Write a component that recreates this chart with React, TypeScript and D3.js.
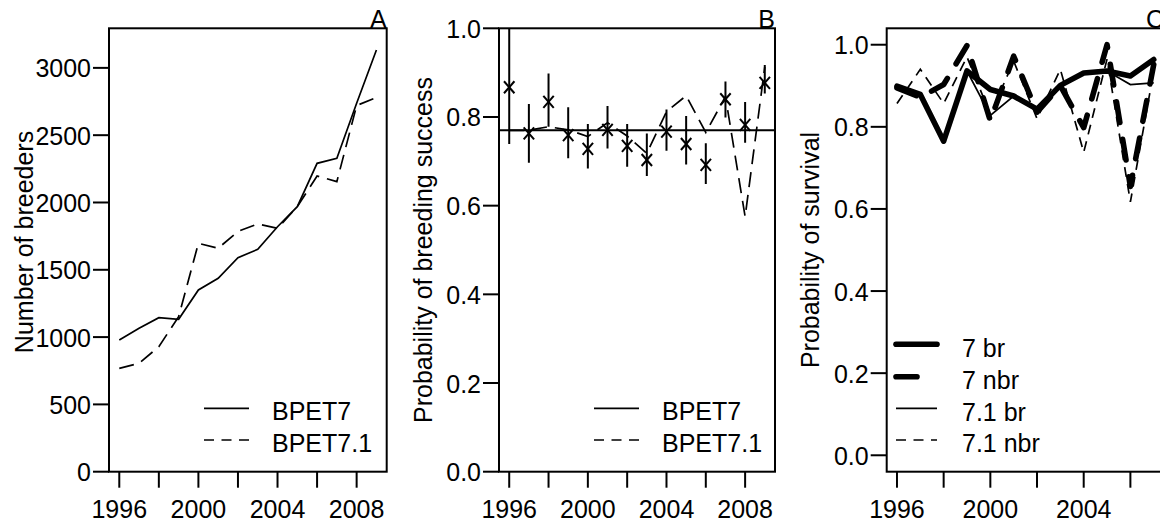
import React from "react";
import * as d3 from "d3";

// ---------- data ----------
const years = [1996, 1997, 1998, 1999, 2000, 2001, 2002, 2003, 2004, 2005, 2006, 2007, 2008, 2009];
const yearsC = [1996, 1997, 1998, 1999, 2000, 2001, 2002, 2003, 2004, 2005, 2006, 2007];

// Panel A: number of breeders
const breedersBPET7 = [978, 1065, 1144, 1132, 1350, 1437, 1590, 1652, 1820, 1969, 2291, 2328, 2737, 3133];
const breedersBPET71 = [768, 805, 929, 1152, 1697, 1660, 1785, 1840, 1808, 1969, 2197, 2155, 2720, 2780];

// Panel B: probability of breeding success
const successBPET7 = 0.77;
const successPoints = [0.867, 0.763, 0.834, 0.759, 0.728, 0.771, 0.735, 0.703, 0.767, 0.739, 0.692, 0.84, 0.782, 0.877];
const successLower = [0.739, 0.697, 0.778, 0.707, 0.684, 0.729, 0.688, 0.667, 0.724, 0.693, 0.649, 0.799, 0.742, 0.853];
const successUpper = [1.0, 0.829, 0.898, 0.822, 0.784, 0.825, 0.784, 0.763, 0.817, 0.802, 0.741, 0.88, 0.834, 0.917];
const successBPET71 = [0.77, 0.77, 0.778, 0.771, 0.756, 0.787, 0.757, 0.718, 0.812, 0.848, 0.765, 0.846, 0.575, 0.913];

// Panel C: probability of survival
const survival7br = [0.899, 0.879, 0.765, 0.936, 0.891, 0.875, 0.843, 0.901, 0.931, 0.936, 0.924, 0.964];
const survival7nbr = [0.895, 0.872, 0.903, 0.998, 0.815, 0.972, 0.836, 0.9, 0.798, 1.0, 0.655, 0.952];
const survival71br = [0.9, 0.88, 0.77, 0.936, 0.828, 0.875, 0.843, 0.9, 0.931, 0.936, 0.903, 0.907];
const survival71nbr = [0.857, 0.94, 0.857, 0.97, 0.83, 0.96, 0.82, 0.94, 0.738, 0.965, 0.617, 0.936];

// ticks
const xTicks = [1996, 1998, 2000, 2002, 2004, 2006, 2008];
const xTickLabels = [1996, 2000, 2004, 2008];
const yTicksA = [0, 500, 1000, 1500, 2000, 2500, 3000];
const yTicksProb = [0, 0.2, 0.4, 0.6, 0.8, 1.0];

const legendAB = ["BPET7", "BPET7.1"];
const legendC = ["7 br", "7 nbr", "7.1 br", "7.1 nbr"];

// ---------- layout ----------
const W = 1160;
const H = 522;
const TOP = 28.3;
const BOTTOM = 471.7;
const FONT = "'Liberation Sans', Arial, Helvetica, sans-serif";
const FS = 25;
const THIN = 1.7;
const THICK = 5.6;

type Scale = d3.ScaleLinear<number, number>;

function Frame(props: {
  id: string;
  x: Scale;
  y: Scale;
  yTicks: number[];
  yFmt: (v: number) => string;
  title: string;
  titleX: number;
  titleCenter: number;
  letter: string;
  children?: React.ReactNode;
}) {
  const { id, x, y, yTicks, yFmt, title, titleX, titleCenter, letter, children } = props;
  const [x0, x1] = x.range();
  const [xd0, xd1] = x.domain();
  const tl = 16;
  return (
    <g>
      <defs>
        <clipPath id={id}>
          <rect x={x0} y={TOP} width={x1 - x0} height={BOTTOM - TOP} />
        </clipPath>
      </defs>
      <g clipPath={`url(#${id})`}>{children}</g>
      <rect x={x0} y={TOP} width={x1 - x0} height={BOTTOM - TOP} fill="none" stroke="#000" strokeWidth={2} />
      {xTicks
        .filter((t) => t >= xd0 && t <= xd1)
        .map((t) => (
          <line key={"xt" + t} x1={x(t)} x2={x(t)} y1={BOTTOM} y2={BOTTOM + tl} stroke="#000" strokeWidth={2} />
        ))}
      {xTickLabels
        .filter((t) => t >= xd0 && t <= xd1)
        .map((t) => (
          <text key={"xl" + t} x={x(t)} y={518} textAnchor="middle" fontFamily={FONT} fontSize={FS}>
            {t}
          </text>
        ))}
      {yTicks.map((t) => (
        <g key={"yt" + t}>
          <line x1={x0 - tl} x2={x0} y1={y(t)} y2={y(t)} stroke="#000" strokeWidth={2} />
          <text x={x0 - 18} y={y(t) + 9.5} textAnchor="end" fontFamily={FONT} fontSize={FS}>
            {yFmt(t)}
          </text>
        </g>
      ))}
      <text
        transform={`translate(${titleX},${titleCenter}) rotate(-90)`}
        textAnchor="middle"
        fontFamily={FONT}
        fontSize={FS}
      >
        {title}
      </text>
      <text x={x1} y={27.5} textAnchor="end" fontFamily={FONT} fontSize={FS}>
        {letter}
      </text>
    </g>
  );
}

function LegendAB(props: { lx0: number; lx1: number; tx: number }) {
  const { lx0, lx1, tx } = props;
  const ys = [408.3, 440];
  return (
    <g>
      {legendAB.map((lab, i) => (
        <g key={lab}>
          <line
            x1={lx0}
            x2={lx1}
            y1={ys[i]}
            y2={ys[i]}
            stroke="#000"
            strokeWidth={THIN}
            strokeDasharray={i === 1 ? "10,7.5" : undefined}
          />
          <text x={tx} y={ys[i] + 12} fontFamily={FONT} fontSize={FS}>
            {lab}
          </text>
        </g>
      ))}
    </g>
  );
}

export default function App() {
  // Panel A
  const xA = d3.scaleLinear().domain([1995.48, 2009.52]).range([109, 386.7]);
  const yA = d3.scaleLinear().domain([0, 3294]).range([BOTTOM, TOP]);
  const lineA = (vals: number[]) =>
    d3
      .line<number>()
      .x((_, i) => xA(years[i]))
      .y((v) => yA(v))(vals) as string;

  // Panel B
  const xB = d3.scaleLinear().domain([1995.48, 2009.52]).range([499, 775]);
  const yB = d3.scaleLinear().domain([0, 1]).range([BOTTOM, TOP]);
  const lineB = d3
    .line<number>()
    .x((_, i) => xB(years[i]))
    .y((v) => yB(v));

  // Panel C (its right edge runs past the picture)
  const xC = d3.scaleLinear().domain([1995.56, 2007.44]).range([886.7, 1164]);
  const yC = d3.scaleLinear().domain([-0.04, 1.04]).range([BOTTOM, TOP]);
  const lineC = d3
    .line<number>()
    .x((_, i) => xC(yearsC[i]))
    .y((v) => yC(v));

  const fmtInt = (v: number) => d3.format("d")(v);
  const fmt1 = (v: number) => d3.format(".1f")(v);

  const cx = 5.2;
  const cy = 6;

  const legCy = [344.3, 376.7, 408.3, 440];

  return (
    <svg
      width={W}
      height={H}
      viewBox={`0 0 ${W} ${H}`}
      style={{ position: "absolute", left: 0, top: 0, background: "#fff" }}
    >
      <rect x={0} y={0} width={W} height={H} fill="#fff" />

      {/* Panel A */}
      <Frame
        id="clipA"
        x={xA}
        y={yA}
        yTicks={yTicksA}
        yFmt={fmtInt}
        title="Number of breeders"
        titleX={33}
        titleCenter={242}
        letter="A"
      >
        <path d={lineA(breedersBPET7)} fill="none" stroke="#000" strokeWidth={THIN} />
        <path d={lineA(breedersBPET71)} fill="none" stroke="#000" strokeWidth={THIN} strokeDasharray="15,8" />
      </Frame>
      <LegendAB lx0={204} lx1={249} tx={272} />

      {/* Panel B */}
      <Frame
        id="clipB"
        x={xB}
        y={yB}
        yTicks={yTicksProb}
        yFmt={fmt1}
        title="Probability of breeding success"
        titleX={432}
        titleCenter={250}
        letter="B"
      >
        <line
          x1={xB.range()[0]}
          x2={xB.range()[1]}
          y1={yB(successBPET7)}
          y2={yB(successBPET7)}
          stroke="#000"
          strokeWidth={2}
        />
        {years.map((yr, i) => (
          <g key={"eb" + yr}>
            <line
              x1={xB(yr)}
              x2={xB(yr)}
              y1={yB(successLower[i])}
              y2={yB(successUpper[i])}
              stroke="#000"
              strokeWidth={2}
            />
            <line
              x1={xB(yr) - cx}
              x2={xB(yr) + cx}
              y1={yB(successPoints[i]) - cy}
              y2={yB(successPoints[i]) + cy}
              stroke="#000"
              strokeWidth={2}
            />
            <line
              x1={xB(yr) - cx}
              x2={xB(yr) + cx}
              y1={yB(successPoints[i]) + cy}
              y2={yB(successPoints[i]) - cy}
              stroke="#000"
              strokeWidth={2}
            />
          </g>
        ))}
        <path
          d={lineB(successBPET71) as string}
          fill="none"
          stroke="#000"
          strokeWidth={THIN}
          strokeDasharray="15,8"
        />
      </Frame>
      <LegendAB lx0={594} lx1={639} tx={662} />

      {/* Panel C */}
      <Frame
        id="clipC"
        x={xC}
        y={yC}
        yTicks={yTicksProb}
        yFmt={fmt1}
        title="Probability of survival"
        titleX={819}
        titleCenter={250}
        letter="C"
      >
        <path
          d={lineC(survival7br) as string}
          fill="none"
          stroke="#000"
          strokeWidth={THICK}
          strokeLinejoin="round"
          strokeLinecap="round"
        />
        <path
          d={lineC(survival7nbr) as string}
          fill="none"
          stroke="#000"
          strokeWidth={THICK}
          strokeLinejoin="round"
          strokeLinecap="round"
          strokeDasharray="21,17"
        />
        <path d={lineC(survival71br) as string} fill="none" stroke="#000" strokeWidth={THIN} />
        <path
          d={lineC(survival71nbr) as string}
          fill="none"
          stroke="#000"
          strokeWidth={THIN}
          strokeDasharray="10,7"
        />
      </Frame>
      {legendC.map((lab, i) => (
        <g key={lab}>
          <line
            x1={896}
            x2={937}
            y1={legCy[i]}
            y2={legCy[i]}
            stroke="#000"
            strokeWidth={i < 2 ? THICK : THIN}
            strokeLinecap={i < 2 ? "round" : "butt"}
            strokeDasharray={i === 1 ? "21,40" : i === 3 ? "10,7.5" : undefined}
          />
          <text x={962} y={legCy[i] + 12.4} fontFamily={FONT} fontSize={FS}>
            {lab}
          </text>
        </g>
      ))}
    </svg>
  );
}
